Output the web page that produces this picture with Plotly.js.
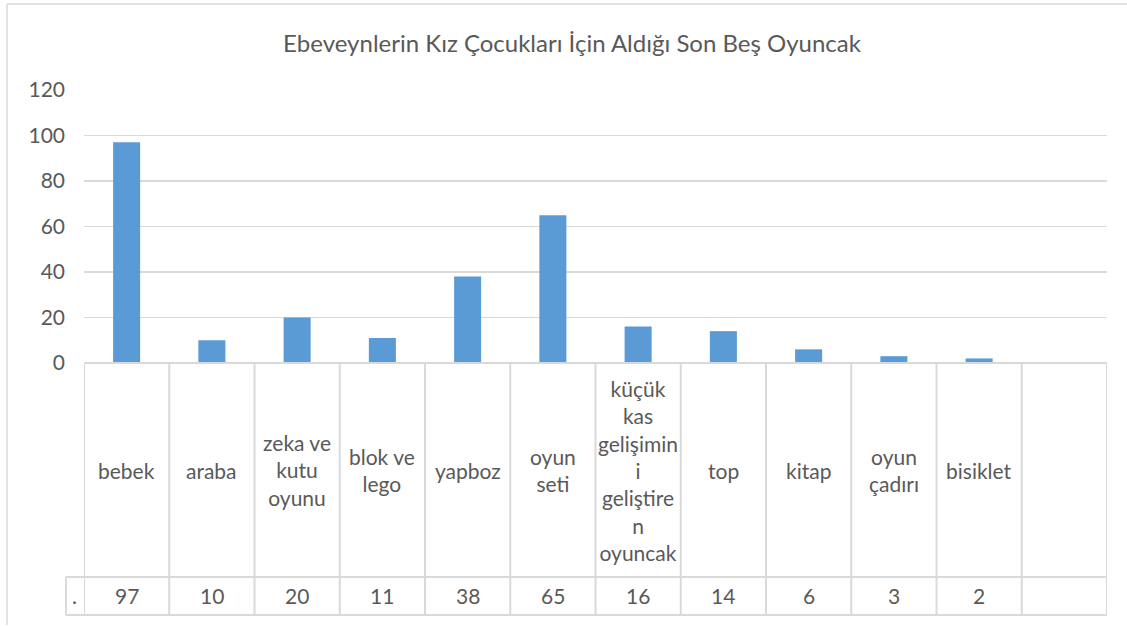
<!DOCTYPE html>
<html><head><meta charset="utf-8">
<script src="https://cdn.plot.ly/plotly-3.0.1.min.js"></script>
<style>html,body{margin:0;padding:0;background:#fff;overflow:hidden}</style>
</head><body><div id="chart" style="width:1127px;height:627px;overflow:hidden"></div>
<script>
const categories = ["bebek","araba","zeka ve kutu oyunu","blok ve lego","yapboz","oyun seti","küçük kas gelişimini geliştiren oyuncak","top","kitap","oyun çadırı","bisiklet",""];
const tableLabels = ["bebek","araba","zeka ve<br>kutu<br>oyunu","blok ve<br>lego","yapboz","oyun<br>seti","küçük<br>kas<br>gelişimin<br>i<br>geliştire<br>n<br>oyuncak","top","kitap","oyun<br>çadırı","bisiklet",""];
const values = [97,10,20,11,38,65,16,14,6,3,2,null];
const seriesName = ".";
const yTicks = [0,20,40,60,80,100,120];
const titleText = "Ebeveynlerin Kız Çocukları İçin Aldığı Son Beş Oyuncak";

const FONT = "Lato, 'Open Sans', sans-serif";
const TXT = "#595959";
const LINE = "#D9D9D9";
const n = categories.length;
const xs = categories.map((_, i) => i);

// table geometry in paper units (plot height 273px)
const row1Bottom = -0.784;
const row2Bottom = -0.923;
const labelY = -0.392;
const valueY = -0.853;
const headerLeft = -0.0176;

const shapes = [];
// outer chart border (left + top visible)
shapes.push({type:'line', xref:'paper', yref:'paper', x0:-0.0753, x1:1.03, y0:1.315, y1:1.315, line:{color:LINE, width:1.5}});
shapes.push({type:'line', xref:'paper', yref:'paper', x0:-0.0753, x1:-0.0753, y0:1.315, y1:-0.96, line:{color:LINE, width:1.5}});
// top line of table (axis line)
shapes.push({type:'line', xref:'x', yref:'paper', x0:-0.5, x1:n-0.5, y0:0, y1:0, line:{color:LINE, width:2}});
// vertical lines of table
for (let i = 0; i <= n; i++) {
  shapes.push({type:'line', xref:'x', yref:'paper', x0:i-0.5, x1:i-0.5, y0:0, y1:row2Bottom, line:{color:LINE, width:2}});
}
// horizontal lines for value row
shapes.push({type:'line', xref:'paper', yref:'paper', x0:headerLeft, x1:1, y0:row1Bottom, y1:row1Bottom, line:{color:LINE, width:2}});
shapes.push({type:'line', xref:'paper', yref:'paper', x0:headerLeft, x1:1, y0:row2Bottom, y1:row2Bottom, line:{color:LINE, width:2}});
shapes.push({type:'line', xref:'paper', yref:'paper', x0:headerLeft, x1:headerLeft, y0:row1Bottom, y1:row2Bottom, line:{color:LINE, width:2}});

const annotations = [];
xs.forEach(i => {
  annotations.push({x:i, xref:'x', y:labelY, yref:'paper', text:tableLabels[i], showarrow:false, align:'center', xanchor:'center', yanchor:'middle', font:{family:FONT, size:21, color:TXT}});
  if (values[i] !== null) {
    annotations.push({x:i, xref:'x', y:valueY, yref:'paper', text:String(values[i]), showarrow:false, xanchor:'center', yanchor:'middle', font:{family:FONT, size:21, color:TXT}});
  }
});
annotations.push({x:(headerLeft)/2, xref:'paper', y:valueY, yref:'paper', text:seriesName, showarrow:false, xanchor:'center', yanchor:'middle', font:{family:FONT, size:21, color:TXT}});

const trace = {
  type:'bar', x:xs, y:values, name:seriesName,
  marker:{color:'#5B9BD5'}, width:0.317, hoverinfo:'skip'
};

const layout = {
  width:1127, height:627,
  margin:{l:84, r:20, t:90, b:264, pad:0},
  paper_bgcolor:'#fff', plot_bgcolor:'#fff',
  showlegend:false,
  title:{text:titleText, font:{family:FONT, size:24, color:TXT}, x:572/1127, xref:'container', xanchor:'center', y:1-44/627, yref:'container', yanchor:'middle'},
  xaxis:{range:[-0.5, n-0.5], showticklabels:false, showgrid:false, zeroline:false, showline:false, ticks:'', fixedrange:true},
  yaxis:{range:[0,120], tickvals:yTicks, ticktext:yTicks.map(String), showgrid:true, gridcolor:LINE, gridwidth:1.5, zeroline:false, showline:false, ticks:'', ticklabelstandoff:18, tickfont:{family:FONT, size:21, color:TXT}, fixedrange:true},
  shapes:shapes, annotations:annotations
};

Plotly.newPlot('chart', [trace], layout, {displayModeBar:false, staticPlot:true});
</script>
</body></html>
